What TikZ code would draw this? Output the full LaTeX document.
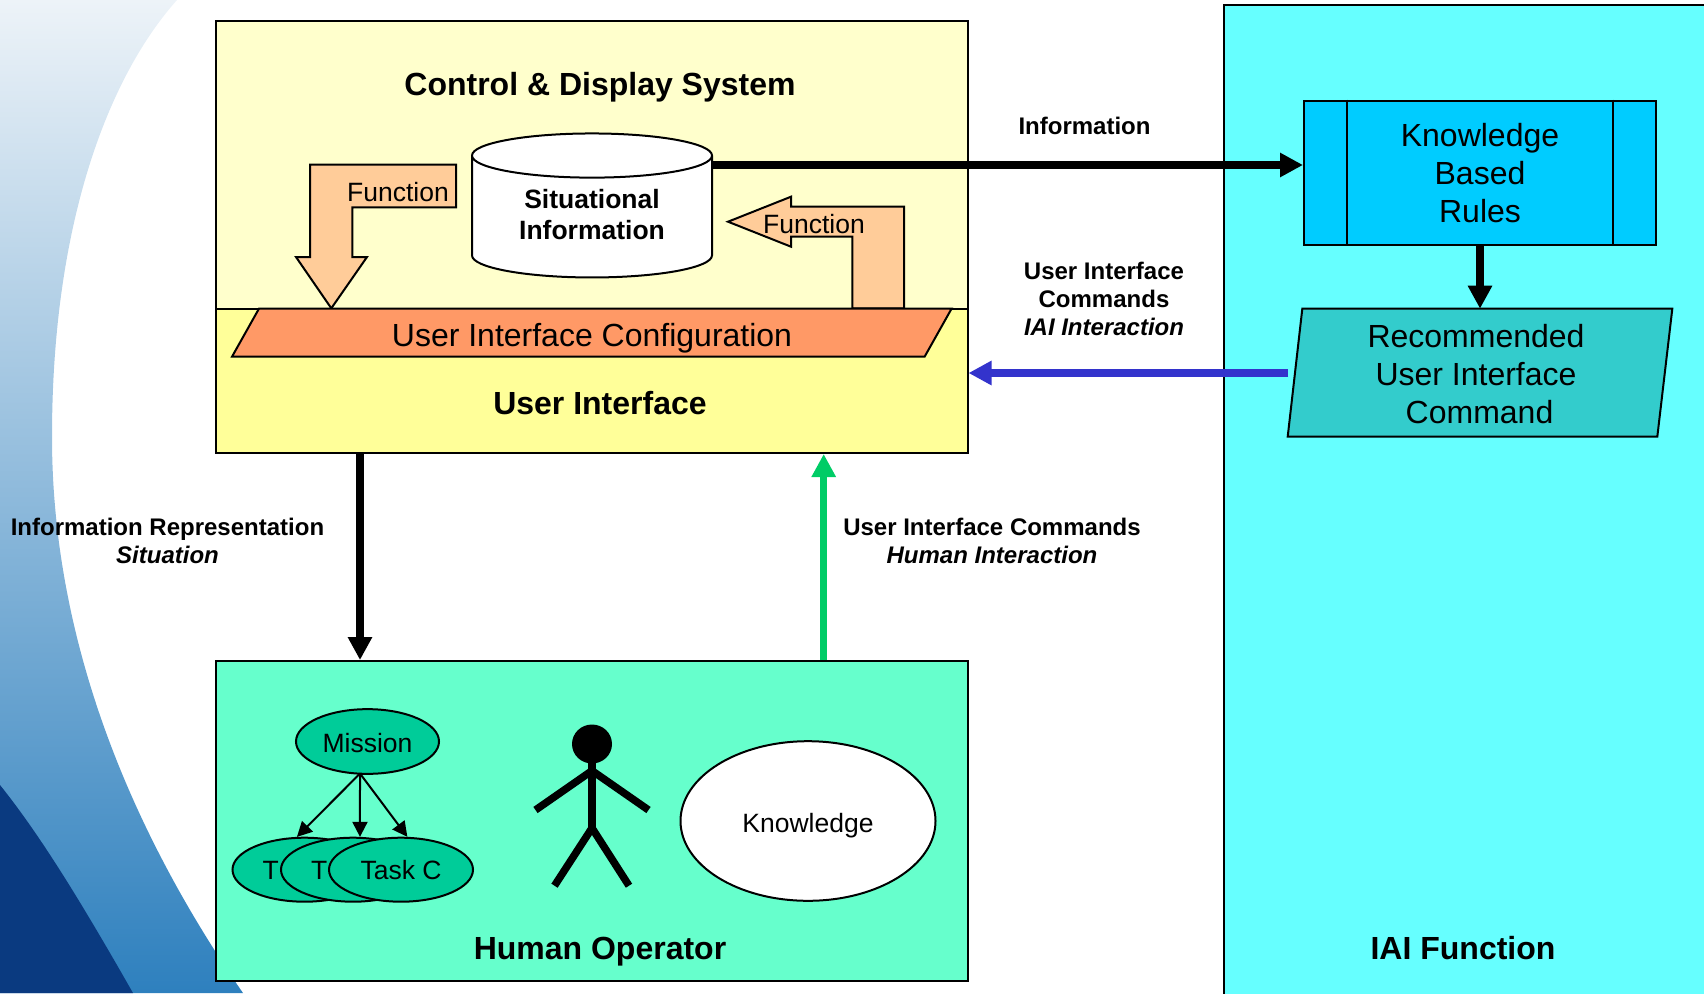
\documentclass[tikz,border=0pt]{standalone}
\usepackage{fontspec}
\setmainfont{Liberation Sans}
\usetikzlibrary{arrows.meta,shapes.geometric}

\definecolor{displayfill}{HTML}{FFFFCC}
\definecolor{uifill}{HTML}{FFFF99}
\definecolor{configfill}{HTML}{FF9966}
\definecolor{funcfill}{HTML}{FFCC99}
\definecolor{humanfill}{HTML}{66FFCC}
\definecolor{taskfill}{HTML}{00CC99}
\definecolor{iaifill}{HTML}{66FFFF}
\definecolor{rulesfill}{HTML}{00CCFF}
\definecolor{cmdfill}{HTML}{33CCCC}
\definecolor{cmdblue}{HTML}{3333CC}
\definecolor{cmdgreen}{HTML}{00CC66}
\definecolor{swooshtop}{HTML}{EDF3F8}
\definecolor{swooshmid}{HTML}{5D9FCE}
\definecolor{swooshlow}{HTML}{2E80BE}
\definecolor{swooshdark}{HTML}{0A3A80}

\tikzset{
    bigtext/.style={font=\fontsize{32}{38}\selectfont, align=center},
    bigbold/.style={font=\fontsize{32}{38}\selectfont\bfseries, align=center},
    midtext/.style={font=\fontsize{26.5}{31}\selectfont, align=center},
    midbold/.style={font=\fontsize{26.5}{31}\selectfont\bfseries, align=center},
    smallbold/.style={font=\fontsize{24}{28}\selectfont\bfseries, align=center},
    framebox/.style={draw=black, line width=2pt, rectangle, inner sep=0pt},
    taskbox/.style={draw=black, line width=2pt, ellipse, fill=taskfill, inner sep=0pt,
        minimum width=144pt, minimum height=64pt, midtext},
    funcarrow/.style={draw=black, line width=2pt, fill=funcfill, line join=miter},
    slantbox/.style={draw=black, line width=2pt, line join=miter},
    bigarrow/.style={line width=7.5pt, -{Triangle[length=23pt,width=23pt]}},
    thinarrow/.style={line width=2pt, -{Triangle[length=15pt,width=15pt]}},
    stickline/.style={black, line width=7.5pt}
}

\begin{document}
\begin{tikzpicture}[x=1pt, y=-1pt]
    \clip (0,0) rectangle (1704,993);

    % Background
    \shade[top color=swooshtop, middle color=swooshmid, bottom color=swooshlow]
        (0,0) -- (177,0) .. controls (110,75) and (52,220) .. (52,437)
        .. controls (52,640) and (130,830) .. (243,993) -- (0,993) -- cycle;
    \fill[swooshdark] (0,785) .. controls (40,835) and (80,900) .. (133,993) -- (0,993) -- cycle;

    % Boxes
    \node[framebox, fill=displayfill, minimum width=751.5pt, minimum height=288pt] (display) at (591.75,164.6) {};
    \node[framebox, fill=uifill, minimum width=751.5pt, minimum height=144.4pt] (ui) at (591.75,380.8) {};
    \node[framebox, fill=humanfill, minimum width=751.5pt, minimum height=320.3pt] (human) at (591.75,821.2) {};
    \node[framebox, fill=iaifill, minimum width=576pt, minimum height=1095pt] (iai) at (1512,552) {};

    % Titles
    \node[bigbold] (displaytitle) at (600,87.7) {Control \& Display System};
    \node[bigbold] (uititle) at (600,403) {User Interface};
    \node[bigbold] (humantitle) at (600,952) {Human Operator};
    \node[bigbold] (iaititle) at (1463,947.6) {IAI Function};

    % Function arrows
    \draw[funcarrow] (310,164.7) -- (456,164.7) -- (456,207.3) -- (352.4,207.3) -- (352.4,257)
        -- (367,257) -- (331.3,308.3) -- (296,257) -- (310,257) -- cycle;
    \draw[funcarrow] (728,221.7) -- (791,196.7) -- (791,206.7) -- (904,206.7) -- (904,308.3)
        -- (852.4,308.3) -- (852.4,236.7) -- (791,236.7) -- (791,246.7) -- cycle;
    \node[midtext] (funcleft) at (398,192) {Function};
    \node[midtext] (funcright) at (814,224) {Function};

    % Situational information
    \node[cylinder, shape border rotate=90, shape aspect=0.303, draw=black, line width=2pt, fill=white,
        inner sep=0pt, minimum width=240pt, minimum height=144pt, midbold] (situation) at (592,217)
        {Situational\\Information\rule[-5.4pt]{0pt}{5.4pt}};
    \coordinate (situationport) at (712,165);

    % Interface configuration
    \draw[slantbox, fill=configfill] (232,356.7) -- (259,308.6) -- (951.6,308.6) -- (924.6,356.7) -- cycle;
    \node[bigtext] (configtext) at (592,338) {User Interface Configuration};

    % IAI function
    \node[framebox, fill=rulesfill, minimum width=352pt, minimum height=144.3pt, bigtext] (rules) at (1480,172.8)
        {Knowledge\\Based\\Rules};
    \draw[black, line width=2pt] (rules.north -| 1346.7,0) -- (rules.south -| 1346.7,0);
    \draw[black, line width=2pt] (rules.north -| 1613,0) -- (rules.south -| 1613,0);
    \draw[slantbox, fill=cmdfill] (1287.7,436.7) -- (1302.3,308.7) -- (1672.3,308.7) -- (1657.3,436.7) -- cycle;
    \node[bigtext] (cmdtext) at (1476,374.5) {Recommended\\User Interface\\\hspace*{7pt}Command};
    \coordinate (cmdtop) at (1480,308.7);
    \coordinate (cmdport) at (1288,373);

    % Human operator
    \node[draw=black, line width=2pt, ellipse, fill=taskfill, inner sep=0pt, minimum width=143pt, minimum height=64.7pt,
        midtext, text height=23pt] (mission) at (367.5,741.5) {Mission};
    \node[taskbox] (taska) at (304.5,869.7) {T\phantom{ask C}};
    \node[taskbox] (taskb) at (353,869.7) {T\phantom{ask C}};
    \node[taskbox] (taskc) at (401,869.7) {Task C};
    \coordinate (missionfoot) at (360,773.5);
    \draw[thinarrow] (missionfoot) -- (taska.103.7);
    \draw[thinarrow] (missionfoot) -- (taskb.78);
    \draw[thinarrow] (missionfoot) -- (taskc.79);
    \node[draw=black, line width=2pt, ellipse, fill=white, inner sep=0pt, minimum width=255pt, minimum height=159.6pt,
        midtext, text depth=0pt, text height=23pt] (knowledge) at (808,821) {Knowledge};

    % Stick figure
    \fill[black] (592,744) ellipse (20 and 19.5);
    \draw[stickline] (592,760) -- (592,828);
    \draw[stickline] (535.5,810) -- (592,770.7) -- (648.5,810);
    \draw[stickline] (554.5,885.7) -- (592,828) -- (629,885.7);

    % Connections
    \coordinate (situationx) at (360,0);
    \coordinate (commandx) at (823.7,0);
    \draw[bigarrow, black] (situationport) -- (rules.west |- situationport);
    \draw[bigarrow, black] (rules.south) -- (cmdtop);
    \draw[bigarrow, cmdblue] (cmdport) -- (ui.east |- cmdport);
    \draw[bigarrow, black] (ui.south -| situationx) -- (human.north -| situationx);
    \draw[bigarrow, cmdgreen] (human.north -| commandx) -- (ui.south -| commandx);

    % Connection labels
    \node[smallbold] (infolabel) at (1084.5,126) {Information};
    \node[smallbold] (iailabel) at (1104,299) {User Interface\\Commands\\\textit{IAI Interaction}};
    \node[smallbold] (situationlabel) at (167.5,540.5) {Information Representation\\\textit{Situation}};
    \node[smallbold] (commandlabel) at (992,540.5) {User Interface Commands\\\textit{Human Interaction}};
\end{tikzpicture}
\end{document}
